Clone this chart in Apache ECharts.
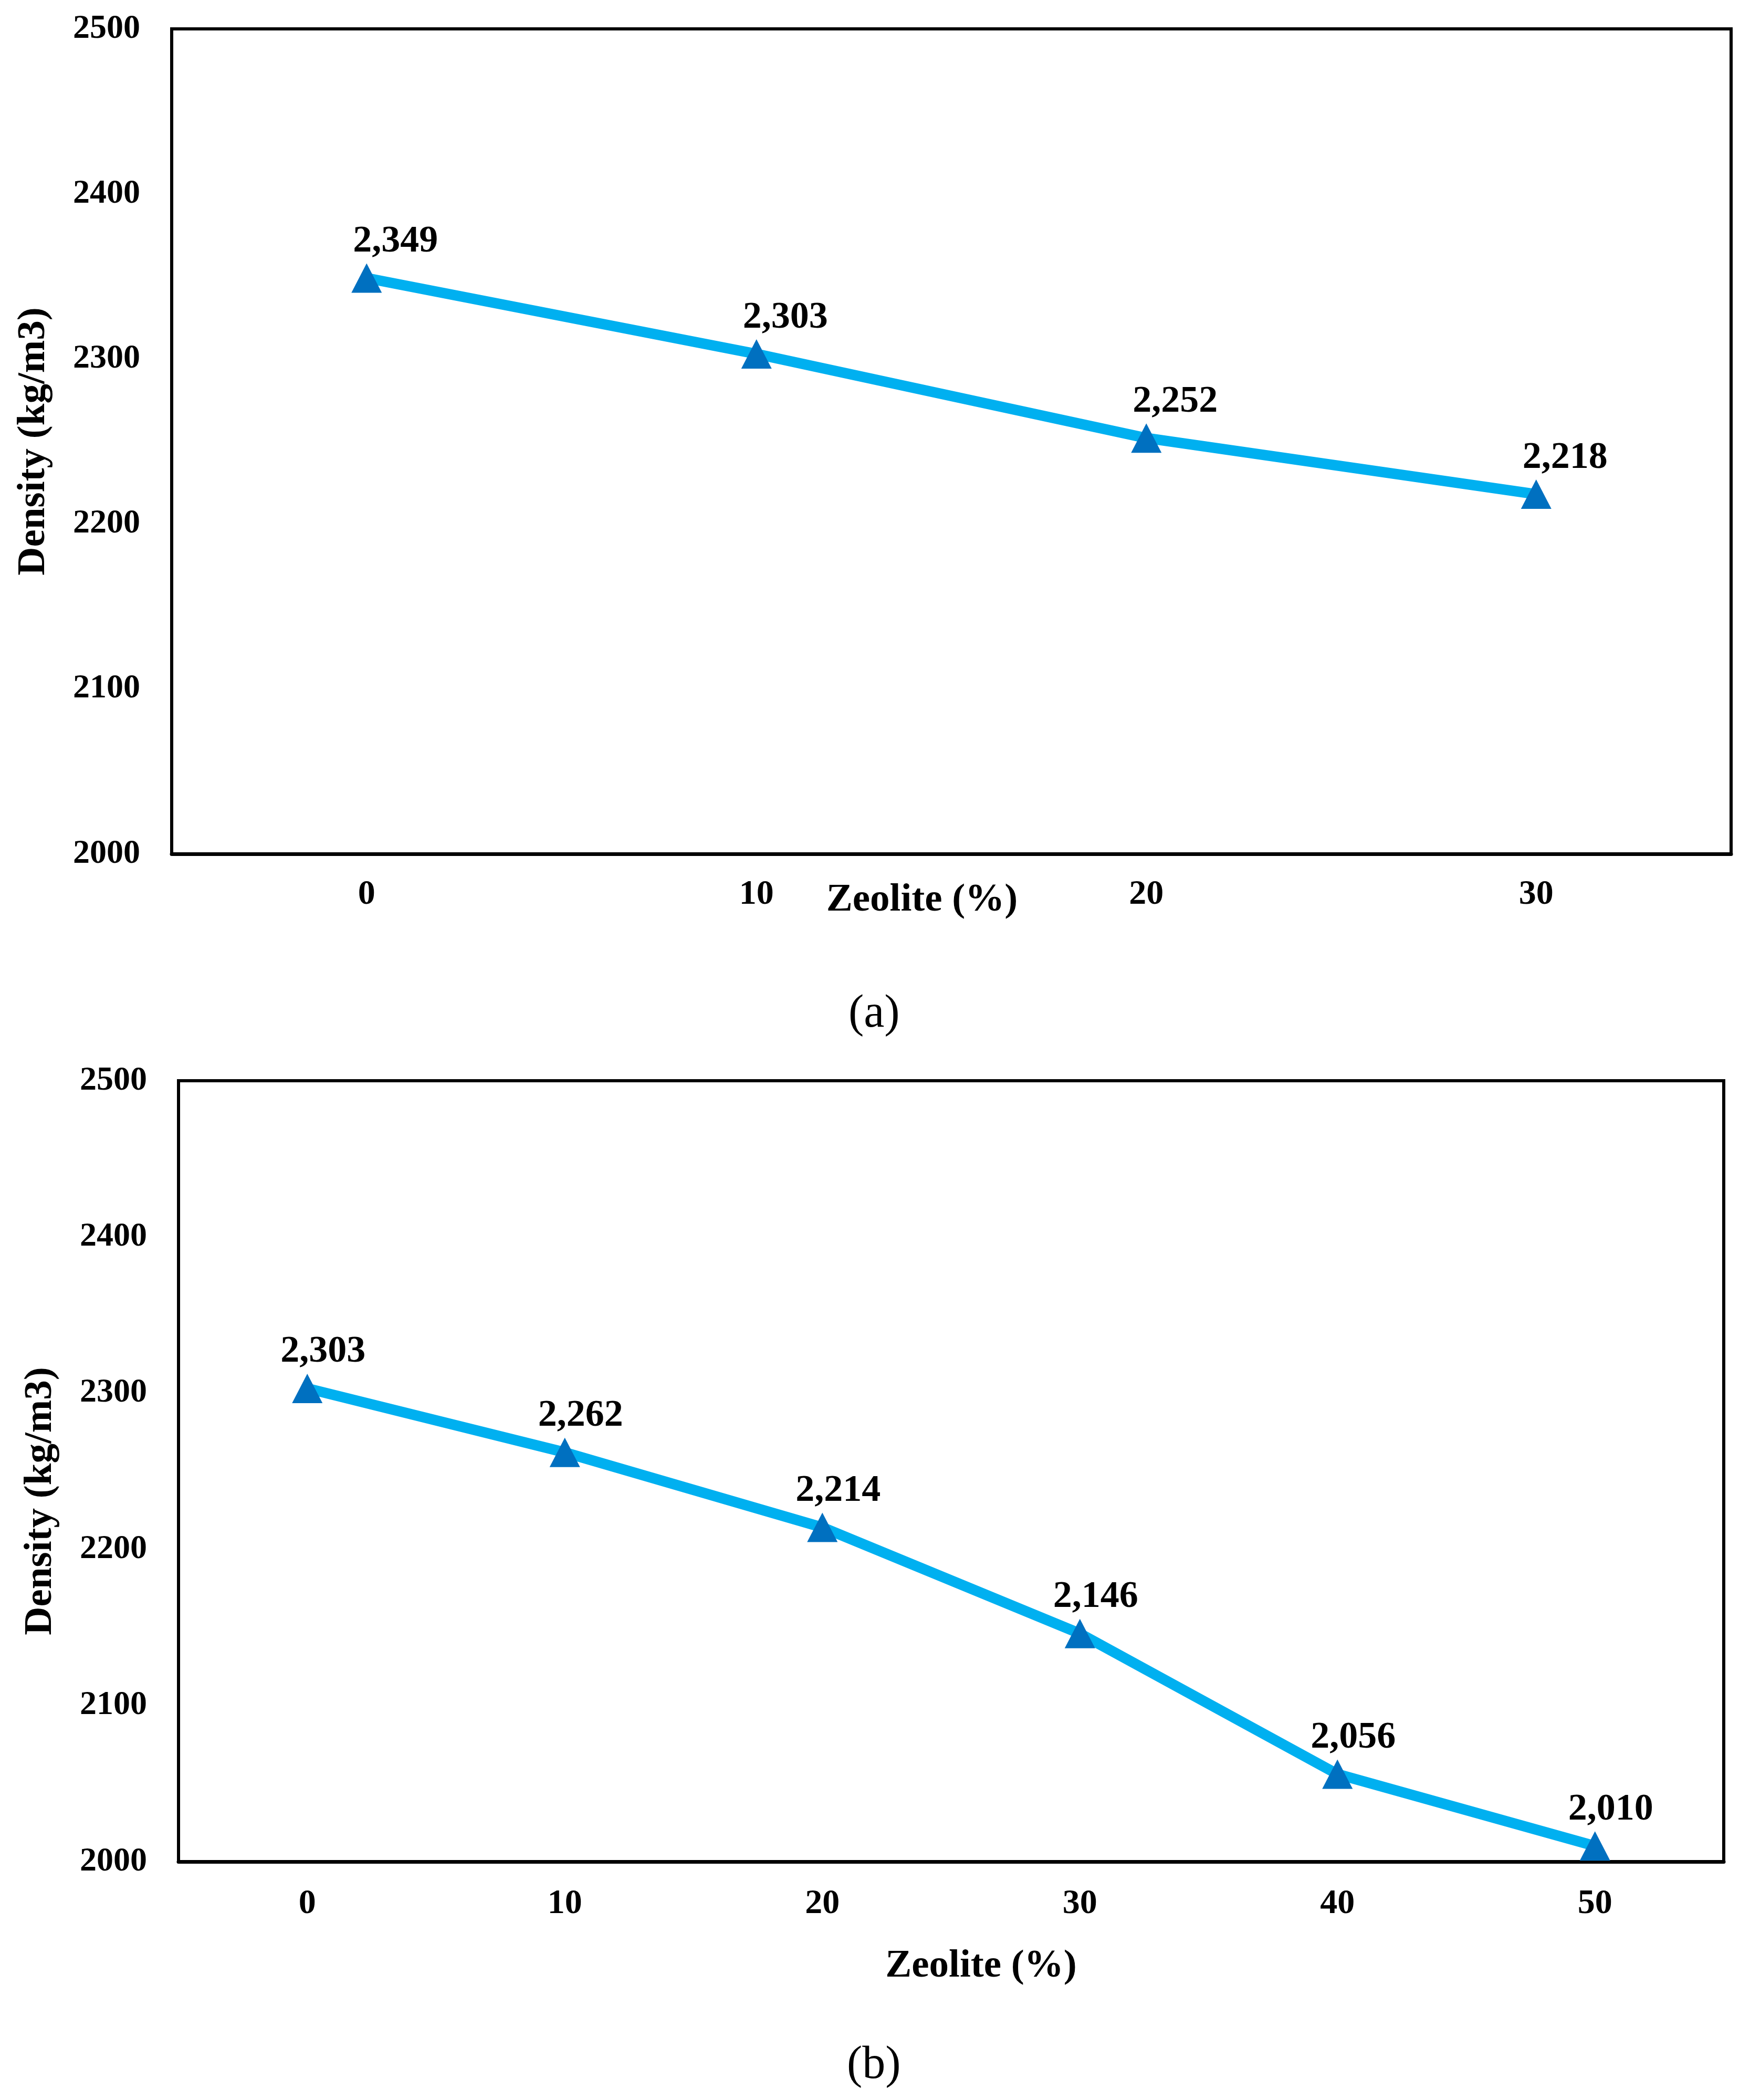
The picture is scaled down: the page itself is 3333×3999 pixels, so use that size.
<!DOCTYPE html>
<html>
<head>
<meta charset="utf-8">
<script src="https://cdn.jsdelivr.net/npm/echarts@6/dist/echarts.min.js"></script>
<style>html,body{margin:0;padding:0;background:#fff}#c{width:3333px;height:3999px}</style>
</head>
<body>
<div id="c"></div>
<script>
// Data
const catsA = ['0', '10', '20', '30'];
const densityA = [2349, 2303, 2252, 2218];
const catsB = ['0', '10', '20', '30', '40', '50'];
const densityB = [2303, 2262, 2214, 2146, 2056, 2010];
const yTicks = [2000, 2100, 2200, 2300, 2400, 2500];
const xName = 'Zeolite (%)';
const yName = 'Density (kg/m3)';
const captions = ['(a)', '(b)'];

const FONT = '"Liberation Serif", "Times New Roman", serif';
const chart = echarts.init(document.getElementById('c'), null, {renderer: 'canvas'});

function fmt(v) { return v.toLocaleString('en-US'); }

function xAxisCfg(gi, cats, nameGap, pad, margin) {
  return {
    type: 'category', gridIndex: gi, data: cats, boundaryGap: true,
    axisLine: {show: true, lineStyle: {color: '#000', width: 7}},
    axisTick: {show: false},
    axisLabel: {color: '#000', fontFamily: FONT, fontWeight: 'bold', fontSize: 66, margin: margin},
    splitLine: {show: false},
    name: xName, nameLocation: 'middle', nameGap: nameGap, nameMoveOverlap: false,
    nameTextStyle: {color: '#000', fontFamily: FONT, fontWeight: 'bold', fontSize: 75, padding: pad}
  };
}
function yAxisCfg(gi, pad) {
  return {
    type: 'value', gridIndex: gi, min: yTicks[0], max: yTicks[yTicks.length - 1], interval: 100,
    axisLine: {show: false}, axisTick: {show: false}, splitLine: {show: false},
    axisLabel: {color: '#000', fontFamily: FONT, fontWeight: 'bold', fontSize: 64, margin: 60,
      formatter: v => String(v)},
    name: yName, nameLocation: 'middle', nameGap: 225, nameRotate: 90,
    nameTextStyle: {color: '#000', fontFamily: FONT, fontWeight: 'bold', fontSize: 75, padding: pad}
  };
}
function seriesCfg(i, data, off) {
  return {
    type: 'line', xAxisIndex: i, yAxisIndex: i, data: data,
    lineStyle: {color: '#00B0F0', width: 20},
    itemStyle: {color: '#0070C0'},
    symbol: 'triangle', symbolSize: [58, 56], showAllSymbol: true,
    clip: false, z: 3,
    label: {
      show: true, position: 'top', distance: 5, offset: [off, 0],
      color: '#000', fontFamily: FONT, fontWeight: 'bold', fontSize: 72,
      formatter: p => fmt(p.value)
    }
  };
}

chart.setOption({
  backgroundColor: '#fff',
  animation: false,
  grid: [
    {left: 327, top: 55, right: 36, height: 1571, show: true, borderColor: '#000', borderWidth: 6, backgroundColor: 'transparent'},
    {left: 340, top: 2058, right: 50, height: 1487, show: true, borderColor: '#000', borderWidth: 6, backgroundColor: 'transparent'}
  ],
  xAxis: [
    xAxisCfg(0, catsA, 51, [0, 112, 0, 0], 45),
    xAxisCfg(1, catsB, 162, [0, 0, 0, 114], 48)
  ],
  yAxis: [
    yAxisCfg(0, [0, 0, 0, 0]),
    yAxisCfg(1, [0, 114, 0, 0])
  ],
  series: [
    seriesCfg(0, densityA, 55),
    seriesCfg(1, densityB, 30)
  ],
  graphic: [
    {type: 'text', left: 1676 - 60, top: 1888, style: {text: captions[0], font: '88px ' + FONT, fill: '#000', textAlign: 'center'}},
    {type: 'text', left: 1673 - 60, top: 3890, style: {text: captions[1], font: '88px ' + FONT, fill: '#000', textAlign: 'center'}}
  ]
});
</script>
</body>
</html>
